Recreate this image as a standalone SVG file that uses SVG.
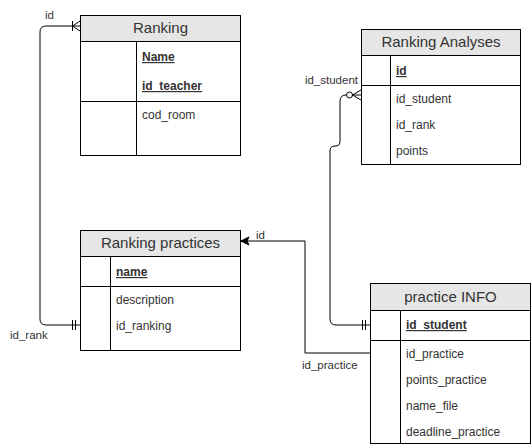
<svg xmlns="http://www.w3.org/2000/svg" width="532" height="448" viewBox="0 0 532 448">
<style>
.box{fill:#ffffff;stroke:#000000;stroke-width:1}
.hdr{fill:#e6e6e6;stroke:#000000;stroke-width:1}
.ln{fill:none;stroke:#000000;stroke-width:1}
.title{font-family:"Liberation Sans",Arial,sans-serif;font-size:15px;fill:#333333;text-anchor:middle}
.fld{font-family:"Liberation Sans",Arial,sans-serif;font-size:12px;fill:#333333}
.key{font-weight:bold;text-decoration:underline}
.lbl{font-family:"Liberation Sans",Arial,sans-serif;font-size:11.5px;fill:#333333}
.edge{fill:none;stroke:#000000;stroke-width:1}
</style>
<defs>
<marker id="arrow" markerWidth="10" markerHeight="10" refX="9" refY="5" orient="auto" markerUnits="userSpaceOnUse">
<path d="M1,1 L9,5 L1,9 L3,5 Z" fill="#000000" stroke="#000000" stroke-width="1"/>
</marker>
</defs>
<rect width="532" height="448" fill="#ffffff"/>

<g id="connectors">
  <path class="edge" d="M80,325 H46 Q40,325 40,319 V32 Q40,26 46,26 H80"/>
  <path class="edge" d="M72.5,21 V31 M72.5,26 L80,21 M72.5,26 L80,31"/>
  <path class="edge" d="M72.5,320 V330 M75.5,320 V330"/>
  <text class="lbl" x="45" y="19">id</text>
  <text class="lbl" x="10" y="339">id_rank</text>

  <path class="edge" d="M370,353 H305 V241 H241" marker-end="url(#arrow)"/>
  <text class="lbl" x="256" y="239">id</text>
  <text class="lbl" x="302" y="369">id_practice</text>

  <path class="edge" d="M370,325 H336 Q330,325 330,319 V151 Q330,146 335,146 H336 Q340,146 340,141 V101 Q340,95 346,95 H346.5"/>
  <circle cx="349.5" cy="95" r="3" fill="#ffffff" stroke="#000000" stroke-width="1"/>
  <path class="edge" d="M352.5,95 H361 M352.5,95 L361,90 M352.5,95 L361,100"/>
  <path class="edge" d="M362.5,320 V330 M365.5,320 V330"/>
  <text class="lbl" x="358" y="84" text-anchor="end">id_student</text>
</g>

<g id="ranking">
  <rect class="box" x="80.5" y="15.5" width="160" height="140"/>
  <rect class="hdr" x="80.5" y="15.5" width="160" height="26"/>
  <path class="ln" d="M136.5,41.5 V155.5 M80.5,101.5 H240.5"/>
  <text class="title" x="160.5" y="33">Ranking</text>
  <text class="fld key" x="142" y="61">Name</text>
  <text class="fld key" x="142" y="90">id_teacher</text>
  <text class="fld" x="142" y="119">cod_room</text>
</g>

<g id="ranking-analyses">
  <rect class="box" x="361.5" y="29.5" width="159" height="135"/>
  <rect class="hdr" x="361.5" y="29.5" width="159" height="26"/>
  <path class="ln" d="M390.5,55.5 V164.5 M361.5,85.5 H520.5"/>
  <text class="title" x="441" y="47">Ranking Analyses</text>
  <text class="fld key" x="396" y="75">id</text>
  <text class="fld" x="396" y="103">id_student</text>
  <text class="fld" x="396" y="129">id_rank</text>
  <text class="fld" x="396" y="155">points</text>
</g>

<g id="ranking-practices">
  <rect class="box" x="80.5" y="230.5" width="160" height="120"/>
  <rect class="hdr" x="80.5" y="230.5" width="160" height="26"/>
  <path class="ln" d="M110.5,256.5 V350.5 M80.5,286.5 H240.5"/>
  <text class="title" x="160.5" y="248">Ranking practices</text>
  <text class="fld key" x="116" y="276">name</text>
  <text class="fld" x="116" y="304">description</text>
  <text class="fld" x="116" y="330">id_ranking</text>
</g>

<g id="practice-info">
  <rect class="box" x="370.5" y="283.5" width="160" height="160"/>
  <rect class="hdr" x="370.5" y="283.5" width="160" height="27"/>
  <path class="ln" d="M400.5,310.5 V443.5 M370.5,340.5 H530.5"/>
  <text class="title" x="450.5" y="302">practice INFO</text>
  <text class="fld key" x="406" y="329">id_student</text>
  <text class="fld" x="406" y="358">id_practice</text>
  <text class="fld" x="406" y="384">points_practice</text>
  <text class="fld" x="406" y="410">name_file</text>
  <text class="fld" x="406" y="436">deadline_practice</text>
</g>
</svg>
